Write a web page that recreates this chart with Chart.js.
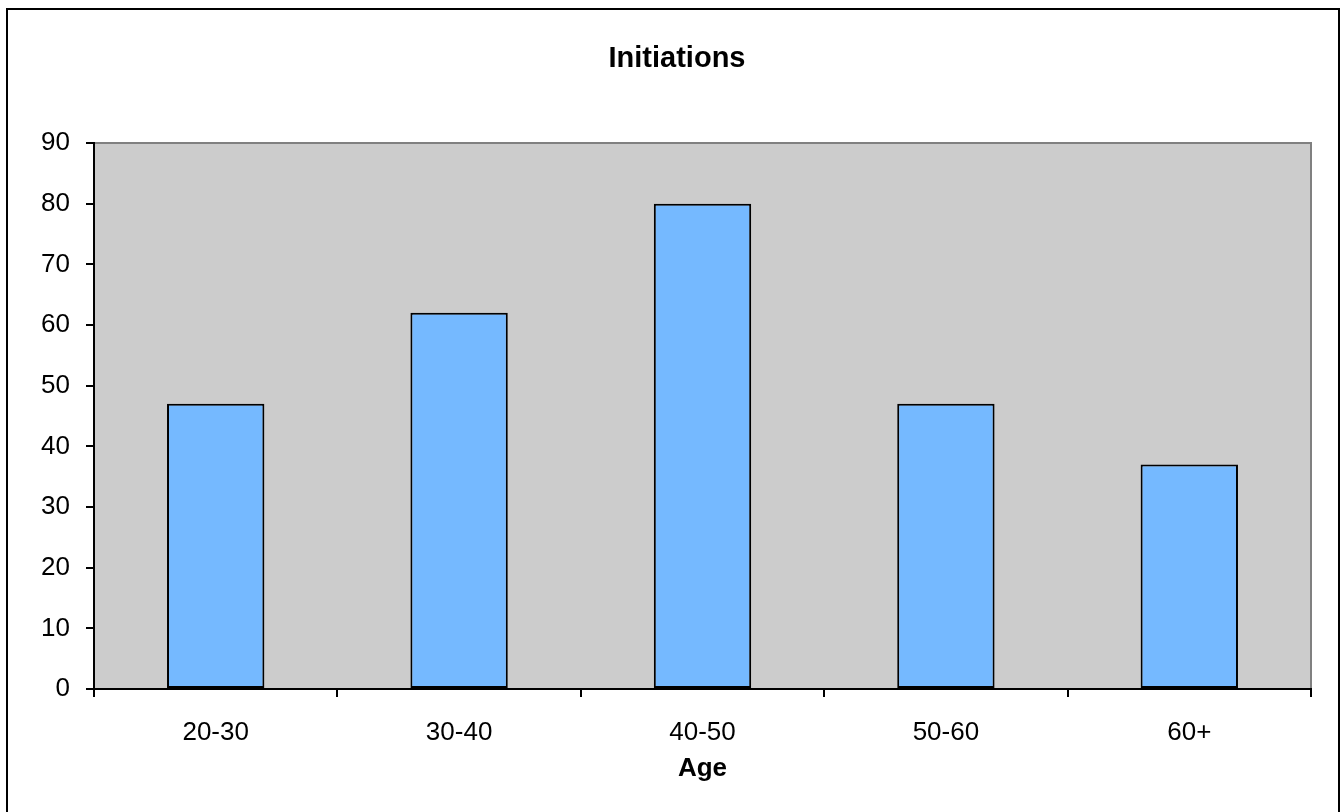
<!DOCTYPE html>
<html>
<head>
<meta charset="utf-8">
<script src="https://cdn.jsdelivr.net/npm/chart.js@4/dist/chart.umd.min.js"></script>
<style>
  html, body { margin: 0; padding: 0; background: #ffffff; }
  #wrap { width: 1343px; height: 812px; }
</style>
</head>
<body>
<div id="wrap"><canvas id="c" width="1343" height="812"></canvas></div>
<script>
const categories = ['20-30', '30-40', '40-50', '50-60', '60+'];
const initiations = [47, 62, 80, 47, 37];
const chartTitle = 'Initiations';
const xAxisTitle = 'Age';

const frame = {
  id: 'frame',
  beforeDraw(chart) {
    const ctx = chart.ctx, a = chart.chartArea;
    ctx.save();
    ctx.fillStyle = '#ffffff';
    ctx.fillRect(0, 0, chart.width, chart.height);
    ctx.fillStyle = '#CCCCCC';
    ctx.fillRect(a.left, a.top, a.right - a.left, a.bottom - a.top);
    ctx.strokeStyle = '#808080';
    ctx.lineWidth = 2;
    ctx.beginPath();
    ctx.moveTo(a.left, a.top);
    ctx.lineTo(a.right, a.top);
    ctx.lineTo(a.right, a.bottom);
    ctx.stroke();
    ctx.strokeStyle = '#000000';
    ctx.lineWidth = 2;
    ctx.strokeRect(7, 9, 1332, 810);
    ctx.fillStyle = '#000000';
    ctx.font = 'bold 29px "Liberation Sans", Arial, sans-serif';
    ctx.textAlign = 'center';
    ctx.textBaseline = 'middle';
    ctx.fillText(chartTitle, 677, 59);
    ctx.restore();
  }
};

new Chart(document.getElementById('c'), {
  type: 'bar',
  data: {
    labels: categories,
    datasets: [{
      label: chartTitle,
      data: initiations,
      backgroundColor: '#75B9FF',
      borderColor: '#000000',
      borderWidth: 2,
      borderSkipped: false,
      barPercentage: 0.4,
      categoryPercentage: 1.0
    }]
  },
  options: {
    responsive: false,
    animation: false,
    layout: { padding: { left: 0, right: 32, top: 143, bottom: 0 } },
    plugins: {
      legend: { display: false },
      tooltip: { enabled: false },
      title: { display: false }
    },
    scales: {
      x: {
        grid: { drawOnChartArea: false, drawTicks: true, tickLength: 8, color: '#000000', lineWidth: 2, offset: true },
        border: { color: '#000000', width: 2 },
        ticks: { color: '#000000', font: { family: 'Liberation Sans, Arial, sans-serif', size: 26 }, padding: 20, maxRotation: 0 },
        title: {
          display: true,
          text: xAxisTitle,
          color: '#000000',
          font: { family: 'Liberation Sans, Arial, sans-serif', size: 26, weight: 'bold' },
          padding: { top: 0, bottom: 28 }
        },
        afterFit(scale) { scale.height = 123; }
      },
      y: {
        min: 0,
        max: 90,
        ticks: { stepSize: 10, color: '#000000', font: { family: 'Liberation Sans, Arial, sans-serif', size: 26 }, padding: 16 },
        grid: { drawOnChartArea: false, drawTicks: true, tickLength: 8, color: '#000000', lineWidth: 2 },
        border: { color: '#000000', width: 2 },
        afterFit(scale) { scale.width = 94; }
      }
    }
  },
  plugins: [frame]
});
</script>
</body>
</html>
